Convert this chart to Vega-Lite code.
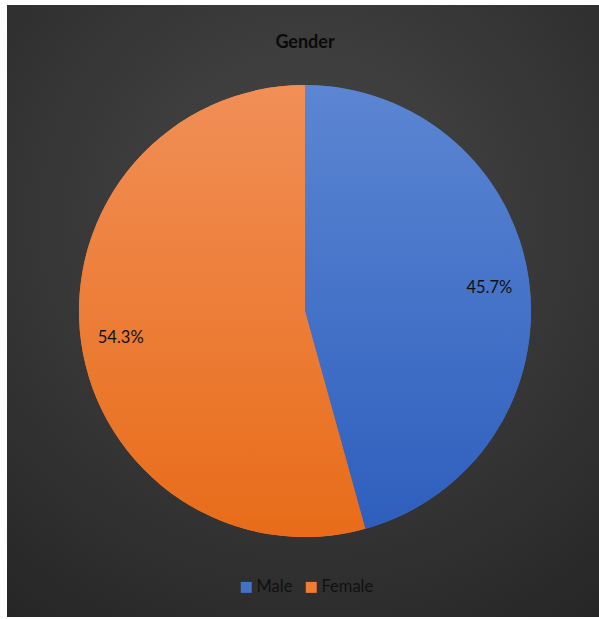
{
  "$schema": "https://vega.github.io/schema/vega-lite/v6.json",
  "width": 596,
  "height": 612,
  "autosize": "none",
  "padding": {"left": 7, "top": 5, "right": 0, "bottom": 0},
  "background": "white",
  "view": {
    "stroke": null,
    "fill": {
      "gradient": "radial",
      "x1": 0.5, "y1": 0.35, "r1": 0,
      "x2": 0.5, "y2": 0.35, "r2": 0.85,
      "stops": [
        {"offset": 0, "color": "#494949"},
        {"offset": 1, "color": "#242424"}
      ]
    }
  },
  "title": {
    "text": "Gender",
    "font": "Lato",
    "fontSize": 18,
    "fontWeight": "bold",
    "color": "#0a0a0a",
    "anchor": "middle",
    "baseline": "middle",
    "offset": -56
  },
  "data": {
    "values": [
      {"gender": "Male", "pct": 45.7, "label": "45.7%", "order": 1},
      {"gender": "Female", "pct": 54.3, "label": "54.3%", "order": 2}
    ]
  },
  "encoding": {
    "theta": {"field": "pct", "type": "quantitative", "stack": true},
    "order": {"field": "order", "type": "quantitative"}
  },
  "layer": [
    {
      "mark": {"type": "arc", "outerRadius": 226, "stroke": null},
      "encoding": {
        "fill": {
          "field": "gender",
          "type": "nominal",
          "sort": ["Male", "Female"],
          "scale": {"domain": ["Male", "Female"], "range": ["#4472c4", "#ed7d31"]},
          "legend": {
            "title": null,
            "orient": "none",
            "direction": "horizontal",
            "legendX": 231,
            "legendY": 574,
            "symbolType": "square",
            "symbolSize": 121,
            "symbolStrokeWidth": 0,
            "labelFont": "Lato",
            "labelFontSize": 16.5,
            "labelColor": "#111111",
            "columnPadding": 10,
            "symbolOffset": 0,
            "labelOffset": 2
          }
        }
      }
    },
    {
      "mark": {"type": "arc", "outerRadius": 226, "stroke": null},
      "encoding": {
        "fill": {
          "condition": {
            "test": "datum.gender === 'Male'",
            "value": {"gradient": "linear", "x1": 0, "y1": 0, "x2": 0, "y2": 1, "stops": [{"offset": 0, "color": "#5c86d3"}, {"offset": 1, "color": "#2e5fbd"}]}
          },
          "value": {"gradient": "linear", "x1": 0, "y1": 0, "x2": 0, "y2": 1, "stops": [{"offset": 0, "color": "#f18f57"}, {"offset": 1, "color": "#e86c19"}]}
        }
      }
    },
    {
      "mark": {"type": "text", "radius": 186, "font": "Lato", "fontSize": 16.5, "color": "#111111", "dy": 2},
      "encoding": {
        "text": {"field": "label", "type": "nominal"}
      }
    }
  ]
}
